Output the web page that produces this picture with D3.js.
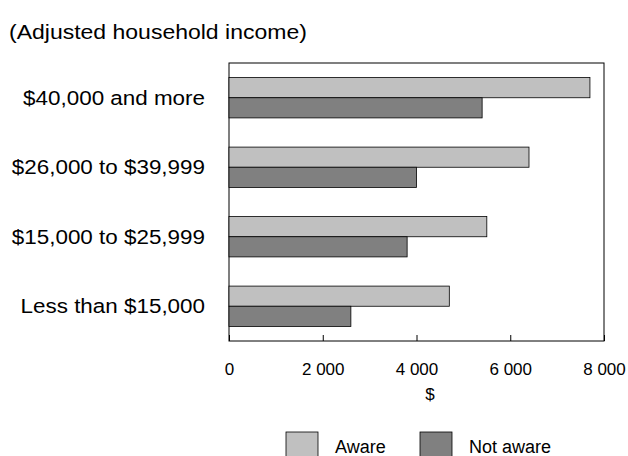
<!DOCTYPE html>
<html>
<head>
<meta charset="utf-8">
<script src="https://cdn.jsdelivr.net/npm/d3@7"></script>
<style>
  body { margin: 0; background: #fff; }
  text { font-family: "Liberation Sans", Arial, sans-serif; fill: #000; }
</style>
</head>
<body>
<div id="chart"></div>
<script>
// income groups, top to bottom as in the picture
const categories = ["$40,000 and more", "$26,000 to $39,999", "$15,000 to $25,999", "Less than $15,000"];
const seriesNames = ["Aware", "Not aware"];
const aware = [7700, 6400, 5500, 4700];
const notAware = [5400, 4000, 3800, 2600];
const xTicks = [0, 2000, 4000, 6000, 8000];

const width = 628;
const height = 456;
const colours = ["#c0c0c0", "#808080"];
// the original font is a bit wider than Arial, so stretch it sideways
const stretch = 1.15;

const margin = { top: 63, right: 24, bottom: 115, left: 229 };
const plotW = width - margin.left - margin.right;
const plotH = height - margin.top - margin.bottom;

let svg = d3.select("#chart")
    .append("svg")
    .attr("width", width)
    .attr("height", height);

svg.append("text")
    .attr("transform", `translate(9,39) scale(1.18,1)`)
    .style("font-size", "19.5px")
    .text("(Adjusted household income)");

let g = svg.append("g").attr("transform", `translate(${margin.left},${margin.top})`);

const x = d3.scaleLinear().domain([0, 8000]).range([0, plotW]);
const y = d3.scaleBand().domain(categories).range([0, plotH]).paddingInner(0.42).paddingOuter(0.21);
const ySub = d3.scaleBand().domain(seriesNames).range([0, y.bandwidth()]);

// frame
g.append("rect")
    .attr("width", plotW)
    .attr("height", plotH)
    .attr("fill", "none")
    .attr("stroke", "#000")
    .attr("stroke-width", 1);

const rows = categories.map((c, i) => ({ cat: c, values: [aware[i], notAware[i]] }));

let groups = g.selectAll(".grp")
    .data(rows)
    .enter()
    .append("g")
    .attr("class", "grp")
    .attr("transform", d => `translate(0,${y(d.cat)})`);

groups.selectAll("rect")
    .data(d => d.values.map((v, j) => ({ name: seriesNames[j], value: v, j: j })))
    .enter()
    .append("rect")
    .attr("x", 0)
    .attr("y", d => ySub(d.name))
    .attr("width", d => x(d.value))
    .attr("height", ySub.bandwidth())
    .attr("fill", d => colours[d.j])
    .attr("stroke", "#000")
    .attr("stroke-width", 0.8);

// category labels, right aligned left of the frame
g.selectAll(".cat")
    .data(categories)
    .enter()
    .append("text")
    .attr("class", "cat")
    .attr("transform", d => `translate(-24,${y(d) + y.bandwidth() / 2}) scale(${stretch},1)`)
    .attr("dy", "0.35em")
    .attr("text-anchor", "end")
    .style("font-size", "19.5px")
    .text(d => d);

// x axis: ticks pointing up into the plot
let xAxis = g.append("g")
    .attr("transform", `translate(0,${plotH})`)
    .call(d3.axisBottom(x).tickValues(xTicks).tickSize(-6).tickPadding(0)
        .tickFormat(d => d3.format(",")(d).replace(",", " ")));
xAxis.select(".domain").remove();
xAxis.selectAll("line").attr("stroke", "#000");
xAxis.selectAll("text")
    .attr("y", 34)
    .attr("dy", 0)
    .style("font-size", "17px")
    .style("font-family", "Liberation Sans, Arial, sans-serif");

svg.append("text")
    .attr("x", 430)
    .attr("y", 400)
    .attr("text-anchor", "middle")
    .style("font-size", "17px")
    .text("$");

// legend
let legend = svg.selectAll(".leg")
    .data(seriesNames)
    .enter()
    .append("g")
    .attr("class", "leg")
    .attr("transform", (d, i) => `translate(${[286, 420][i]},432)`);

legend.append("rect")
    .attr("width", 32)
    .attr("height", 30)
    .attr("fill", (d, i) => colours[i])
    .attr("stroke", "#000")
    .attr("stroke-width", 0.8);

legend.append("text")
    .attr("x", 49)
    .attr("y", 21)
    .style("font-size", "18px")
    .text(d => d);
</script>
</body>
</html>
